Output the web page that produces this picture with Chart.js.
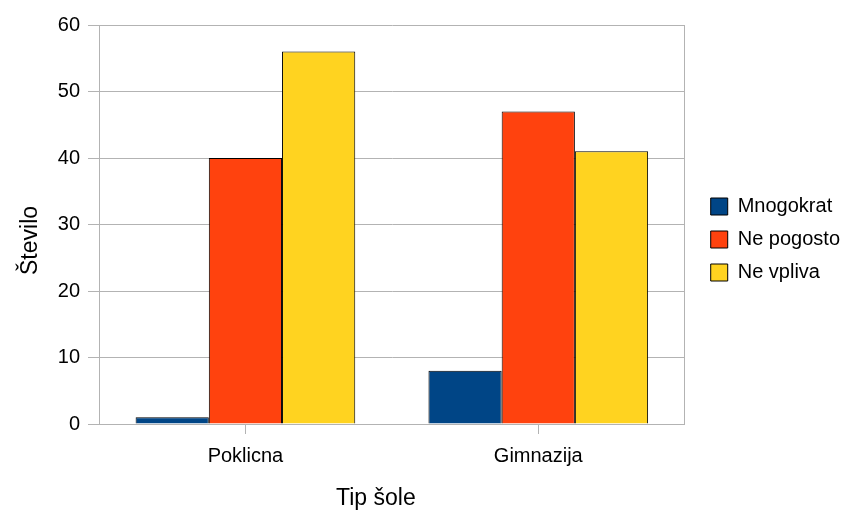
<!DOCTYPE html>
<html>
<head>
<meta charset="utf-8">
<script src="https://cdn.jsdelivr.net/npm/chart.js@4"></script>
<style>
  html, body { margin: 0; padding: 0; background: #fff; }
  #wrap { width: 846px; height: 512px; }
</style>
</head>
<body>
<div id="wrap"><canvas id="c" width="846" height="512"></canvas></div>
<script>
const categories = ['Poklicna', 'Gimnazija'];
const seriesNames = ['Mnogokrat', 'Ne pogosto', 'Ne vpliva'];
const mnogokrat = [1, 8];
const nePogosto = [40, 47];
const neVpliva = [56, 41];
const colors = ['#004586', '#ff420e', '#ffd320'];

const fam = '"Liberation Sans", Arial, sans-serif';
const font = { family: fam, size: 20 };
const titleFont = { family: fam, size: 23 };
const gridColor = '#b3b3b3';
// the axis titles sit a little off centre in the original
const nb = '\u00a0\u00a0\u00a0\u00a0\u00a0';

new Chart(document.getElementById('c'), {
  type: 'bar',
  data: {
    labels: categories,
    datasets: [mnogokrat, nePogosto, neVpliva].map((d, i) => ({
      label: seriesNames[i],
      data: d,
      backgroundColor: colors[i],
      borderColor: '#000',
      borderWidth: 1,
      categoryPercentage: 0.75,
      barPercentage: 1
    }))
  },
  options: {
    responsive: false,
    animation: false,
    layout: { padding: { top: 25, right: -4, left: 12, bottom: 0 } },
    plugins: {
      tooltip: { enabled: false },
      legend: {
        position: 'right',
        fullSize: false,
        maxWidth: 170,
        title: { display: true, text: '', font: { size: 10 }, padding: 9 },
        labels: {
          color: '#000',
          font: font,
          boxWidth: 17,
          boxHeight: 17,
          padding: 13,
          useBorderRadius: false
        }
      }
    },
    scales: {
      x: {
        afterFit: (s) => { s.height = 88; },
        grid: { offset: false, drawOnChartArea: false, color: gridColor, tickLength: 10 },
        border: { color: gridColor },
        ticks: { color: '#000', font: font, padding: 10 },
        title: { display: true, text: 'Tip šole' + nb, color: '#000', font: titleFont, padding: { top: -3, bottom: 0 } }
      },
      y: {
        min: 0,
        max: 60,
        afterFit: (s) => { s.width = 87; },
        ticks: { stepSize: 10, color: '#000', font: font, padding: 8 },
        grid: { color: gridColor, tickLength: 11 },
        border: { color: gridColor },
        title: { display: true, text: 'Število' + nb, color: '#000', font: titleFont, padding: { top: 5, bottom: 0 } }
      },
      // right frame line of the plot, also gives the gap before the legend
      yRight: {
        position: 'right',
        min: 0,
        max: 60,
        afterFit: (s) => { s.width = 13; },
        ticks: { display: false },
        grid: { drawOnChartArea: false, drawTicks: false },
        border: { color: gridColor }
      }
    }
  }
});
</script>
</body>
</html>
